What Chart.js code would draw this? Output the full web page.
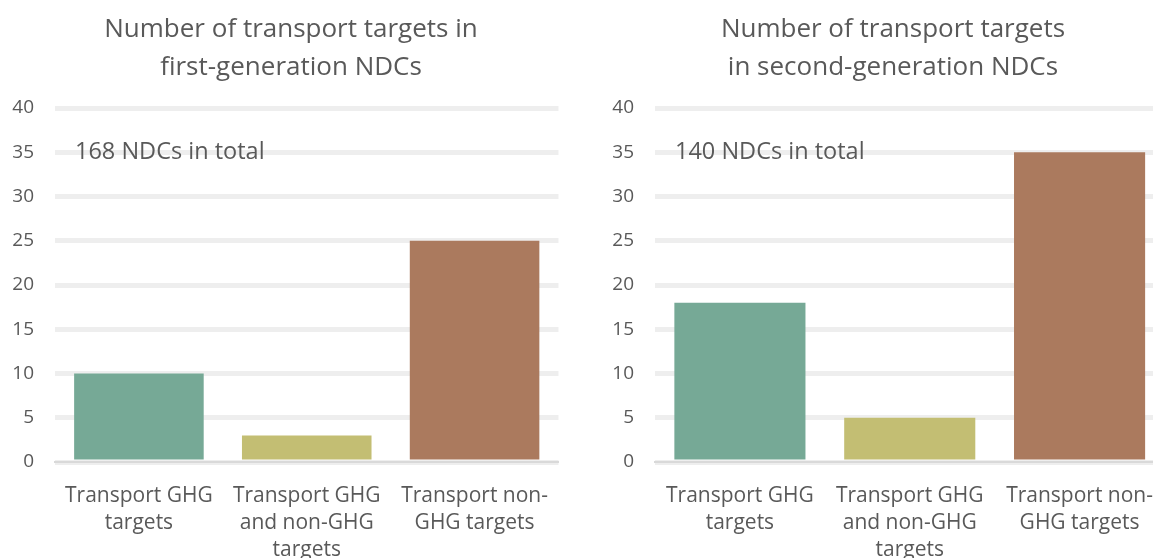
<!DOCTYPE html>
<html>
<head>
<meta charset="utf-8">
<script src="https://cdn.jsdelivr.net/npm/chart.js@4"></script>
<style>
  html, body { margin: 0; padding: 0; background: #fff; overflow: hidden; }
  #wrap { position: relative; width: 1153px; height: 558px; overflow: hidden; }
  .box { position: absolute; top: 0; height: 558px; }
  #box1 { left: 0; width: 560px; }
  #box2 { left: 600px; width: 565px; }
</style>
</head>
<body>
<div id="wrap">
  <div class="box" id="box1"><canvas id="first"></canvas></div>
  <div class="box" id="box2"><canvas id="second"></canvas></div>
</div>
<script>
const categories = [
  ['Transport GHG', 'targets'],
  ['Transport GHG', 'and non-GHG', 'targets'],
  ['Transport non-', 'GHG targets']
];
const firstGenValues = [10, 3, 25];
const secondGenValues = [18, 5, 35];
const barColors = ['#76a996', '#c3be73', '#ab7a5e'];
const yTicks = [0, 5, 10, 15, 20, 25, 30, 35, 40];

const grey = '#595959';
const fontFamily = '"Open Sans", sans-serif';

// heading (drawn by hand so it can sit a little off the canvas centre)
// and the "N NDCs in total" note inside the plot
const textPlugin = {
  id: 'texts',
  afterDraw(chart, args, opts) {
    const c = chart.ctx;
    const top = chart.chartArea.top;
    c.save();
    c.fillStyle = grey;
    c.textBaseline = 'middle';

    c.font = '26px ' + fontFamily;
    c.textAlign = 'center';
    c.fillText(opts.heading[0], opts.headingX, top - 78);
    c.fillText(opts.heading[1], opts.headingX, top - 40);

    c.font = '23.5px ' + fontFamily;
    c.textAlign = 'left';
    c.fillText(opts.note, chart.chartArea.left + 20, chart.scales.y.getPixelForValue(35));
    c.restore();
  }
};

function makeChart(id, heading, headingX, values, note) {
  const ctx = document.getElementById(id).getContext('2d');
  return new Chart(ctx, {
    type: 'bar',
    data: {
      labels: categories,
      datasets: [{
        data: values,
        backgroundColor: barColors,
        borderWidth: 0,
        categoryPercentage: 0.772,
        barPercentage: 1
      }]
    },
    options: {
      responsive: true,
      maintainAspectRatio: false,
      animation: false,
      layout: { padding: { left: 0, right: 0, top: 108, bottom: 0 } },
      plugins: {
        legend: { display: false },
        tooltip: { enabled: false },
        title: { display: false },
        texts: { heading: heading, headingX: headingX, note: note }
      },
      scales: {
        x: {
          grid: { display: false },
          border: { display: true, color: '#d9d9d9', width: 2 },
          ticks: {
            color: grey,
            font: { family: fontFamily, size: 21, lineHeight: 1.3 },
            padding: 12,
            maxRotation: 0,
            autoSkip: false
          },
          afterFit(scale) { scale.height = 96; }
        },
        y: {
          min: 0,
          max: 40,
          afterBuildTicks(scale) { scale.ticks = yTicks.map(v => ({ value: v })); },
          grid: { color: '#eeeeee', lineWidth: 5, drawTicks: false },
          border: { display: false },
          ticks: {
            color: grey,
            font: { family: fontFamily, size: 19 },
            padding: 21
          },
          afterFit(scale) { scale.width = 55; }
        }
      }
    },
    plugins: [textPlugin]
  });
}

makeChart('first', ['Number of transport targets in', 'first-generation NDCs'], 291,
  firstGenValues, '168 NDCs in total');
makeChart('second', ['Number of transport targets', 'in second-generation NDCs'], 293,
  secondGenValues, '140 NDCs in total');
</script>
</body>
</html>
